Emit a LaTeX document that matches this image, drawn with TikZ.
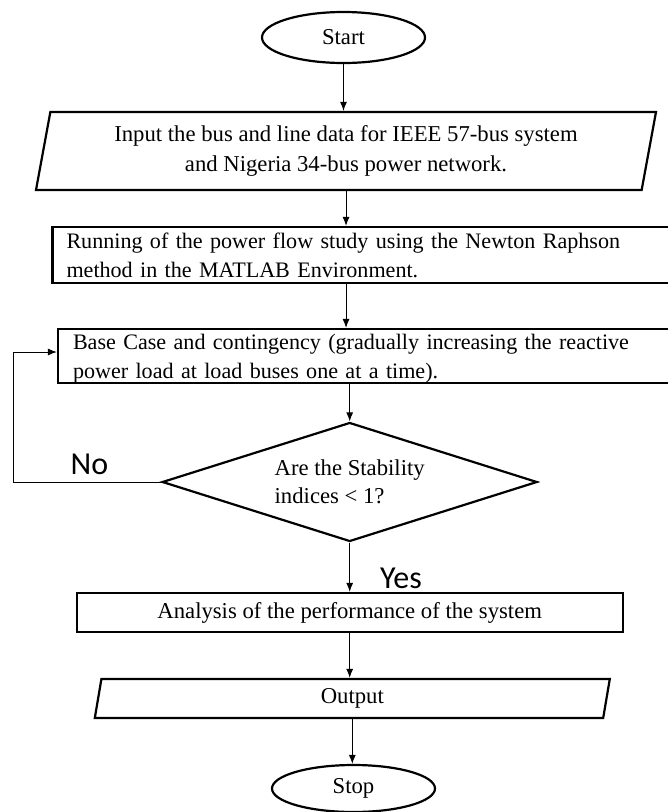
\documentclass[tikz,border=0pt]{standalone}
\usepackage{fontspec}
\setmainfont{Liberation Serif}
\newfontfamily\labelfont{Carlito}
\usetikzlibrary{shapes.geometric,arrows.meta}
\begin{document}
\begin{tikzpicture}[x=1pt,y=-1pt,
    font=\fontsize{22.7}{29}\selectfont,
    term/.style={draw,ellipse,line width=2.2pt,inner sep=0pt},
    io/.style={draw,trapezium,trapezium stretches body=true,line width=2.2pt,align=center},
    proc/.style={draw,rectangle,line width=2.2pt,inner ysep=2pt,align=left},
    decide/.style={draw,diamond,aspect=3.15,line width=2.2pt,align=left,inner sep=0pt},
    answer/.style={font=\labelfont\fontsize{32}{32}\selectfont},
    flow/.style={-{Latex[length=9pt,width=7pt]},line width=1pt}]
  \useasboundingbox (0,0) rectangle (668,812);
  \clip (0,0) rectangle (668,812);
  \draw
    (343.5,37.5) node[term,minimum width=163,minimum height=51] (start){Start}
    (346,151) node[io,trapezium left angle=76,trapezium right angle=104,
      minimum width=620,minimum height=78,font=\fontsize{22.7}{30}\selectfont] (input)
      {Input the bus and line data for IEEE 57-bus system\\and Nigeria 34-bus power network.}
    (376,255) node[proc,minimum width=647,minimum height=56,inner xsep=14,text width=619,
      font=\fontsize{22.1}{29}\selectfont] (run)
      {Running of the power flow study using the Newton Raphson\\method in the MATLAB Environment.}
    (379,356) node[proc,minimum width=642,minimum height=54,inner xsep=15,text width=612,
      text depth=28,font=\fontsize{22.1}{29}\selectfont] (base)
      {Base Case and contingency (gradually increasing the reactive\\power load at load buses one at a time).}
    (349.7,482) node[decide,minimum width=375,minimum height=119,font=\fontsize{22.7}{28}\selectfont] (check)
      {Are the Stability\\indices < 1?}
    (349.7,612.5) node[proc,minimum width=546,minimum height=39] (analysis)
      {Analysis of the performance of the system}
    (352.3,698.5) node[io,trapezium left angle=76,trapezium right angle=104,
      minimum width=515,minimum height=39] (output){Output}
    (353.5,788.5) node[term,minimum width=163,minimum height=47] (stop){Stop};
  \coordinate (loop) at (13,482);
  \node[answer] (no) at (89.5,464) {No};
  \node[answer] (yes) at (401,578) {Yes};
  \begin{scope}[flow]
    \draw (start.south) to (start.south |- input.north);
    \draw (input.south) to (input.south |- run.north);
    \draw (run.south -| input.south) to (base.north -| input.south);
    \draw (base.south -| check.north) to (check.north);
    \draw (check.south) to (check.south |- analysis.north);
    \draw (analysis.south) to (analysis.south |- output.north);
    \draw (output.south) to (output.south |- stop.north);
    \draw (check.west) -- (loop) |- ([yshift=4pt]base.west);
  \end{scope}
\end{tikzpicture}
\end{document}
